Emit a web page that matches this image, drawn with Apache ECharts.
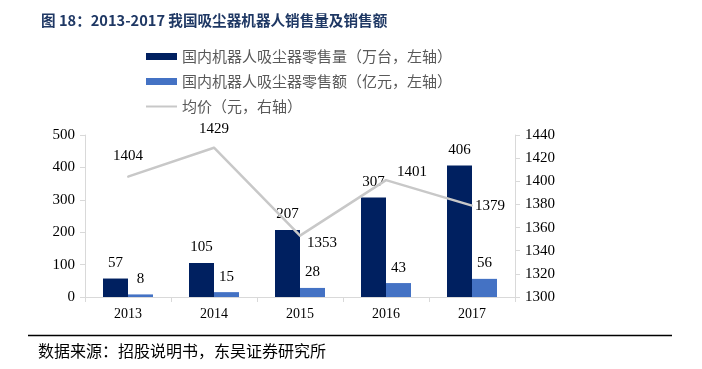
<!DOCTYPE html>
<html><head><meta charset="utf-8">
<script src="https://cdn.jsdelivr.net/npm/echarts@6/dist/echarts.min.js"></script>
<style>html,body{margin:0;padding:0;background:#fff}#c{width:702px;height:369px}</style>
</head><body><div id="c"></div>
<script>
var categories = ['2013', '2014', '2015', '2016', '2017'];
var salesVolume = [57, 105, 207, 307, 406];
var salesAmount = [8, 15, 28, 43, 56];
var avgPrice = [1404, 1429, 1353, 1401, 1379];
var leftTicks = [0, 100, 200, 300, 400, 500];
var rightTicks = [1300, 1320, 1340, 1360, 1380, 1400, 1420, 1440];
var names = ['国内机器人吸尘器零售量（万台，左轴）', '国内机器人吸尘器零售额（亿元，左轴）', '均价（元，右轴）'];
var titleText = '图 18：2013-2017 我国吸尘器机器人销售量及销售额';
var sourceText = '数据来源：招股说明书，东吴证券研究所';

var labelCfg = [
  {position: 'top', distance: 12},
  {position: 'top', distance: 10},
  {position: 'right', distance: 6, offset: [0, 7]},
  {position: 'right', distance: 10, offset: [0, -8]},
  {position: 'right', distance: 2, offset: [0, 0]}
];
var lineData = avgPrice.map(function (v, i) {
  return {value: v, label: labelCfg[i]};
});
var serif = '"Liberation Serif", "Times New Roman", serif';
var cjk = '"Noto Sans CJK SC", sans-serif';
var chart = echarts.init(document.getElementById('c'));
chart.setOption({
  animation: false,
  backgroundColor: '#fff',
  title: {text: titleText, left: 36, top: 8,
    textStyle: {fontSize: 14.6, fontWeight: 'bold', color: '#1f3864', fontFamily: cjk}},
  graphic: [
    {type: 'line', shape: {x1: 28, y1: 335.5, x2: 672, y2: 335.5}, style: {stroke: '#000', lineWidth: 1.5}},
    {type: 'text', left: 38, top: 343, style: {text: sourceText, font: '16px "Noto Sans CJK SC"', fill: '#000'}}
  ],
  legend: [
    {orient: 'vertical', left: 146, top: 49, padding: 0, itemWidth: 31, itemHeight: 7, itemGap: 10,
      icon: 'rect', data: [names[0], names[1]],
      textStyle: {fontSize: 15, color: '#595959', fontFamily: cjk}},
    {orient: 'vertical', left: 146, top: 99, padding: 0, itemWidth: 31, itemHeight: 2,
      icon: 'rect', data: [names[2]],
      textStyle: {fontSize: 15, color: '#595959', fontFamily: cjk}}
  ],
  grid: {left: 85, right: 187, top: 135, bottom: 72},
  xAxis: {type: 'category', data: categories,
    axisLine: {lineStyle: {color: '#d9d9d9'}},
    axisTick: {show: true, length: 5, lineStyle: {color: '#d9d9d9'}},
    axisLabel: {fontSize: 14, color: '#000', fontFamily: serif, margin: 10}},
  yAxis: [
    {type: 'value', min: 0, max: 500, interval: 100,
      axisLine: {show: true, lineStyle: {color: '#d9d9d9'}},
      axisTick: {show: true, length: 5, lineStyle: {color: '#d9d9d9'}},
      splitLine: {show: false},
      axisLabel: {fontSize: 15, color: '#000', fontFamily: serif, margin: 10}},
    {type: 'value', min: 1300, max: 1440, interval: 20,
      axisLine: {show: true, lineStyle: {color: '#d9d9d9'}},
      axisTick: {show: true, length: 5, lineStyle: {color: '#d9d9d9'}},
      splitLine: {show: false},
      axisLabel: {fontSize: 15, color: '#000', fontFamily: serif, margin: 10,
        formatter: function (v) { return String(v); }}}
  ],
  series: [
    {name: names[0], type: 'bar', data: salesVolume, barWidth: 25, barGap: '0%',
      itemStyle: {color: '#002060'},
      label: {show: true, position: 'top', distance: 8, fontSize: 15, color: '#000', fontFamily: serif}},
    {name: names[1], type: 'bar', data: salesAmount, barWidth: 25,
      itemStyle: {color: '#4472c4'},
      label: {show: true, position: 'top', distance: 8, fontSize: 15, color: '#000', fontFamily: serif}},
    {name: names[2], type: 'line', yAxisIndex: 1, data: lineData, symbol: 'circle', symbolSize: 2,
      showSymbol: true,
      lineStyle: {color: '#c8c8c8', width: 2.5}, itemStyle: {color: '#c8c8c8'},
      label: {show: true, fontSize: 15, color: '#000', fontFamily: serif}}
  ]
});
</script></body></html>
